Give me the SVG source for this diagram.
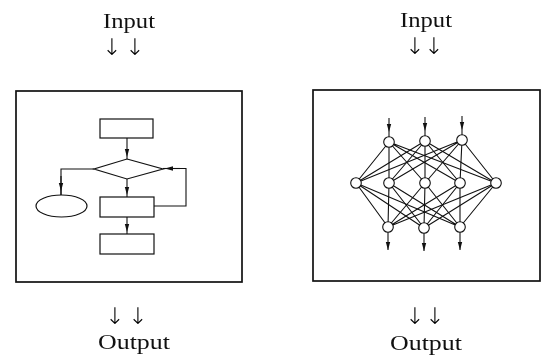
<svg xmlns="http://www.w3.org/2000/svg" width="544" height="362" viewBox="0 0 544 362">
<style>
.frame{fill:none;stroke:#111;stroke-width:1.7}
.ln{fill:none;stroke:#111;stroke-width:1.1}
.shp{fill:#fff;stroke:#111;stroke-width:1.2}
.nd{fill:#fff;stroke:#111;stroke-width:1.1}
.lbl{font-family:"Liberation Serif","Times New Roman",serif;font-size:22px;fill:#111}
.arr{font-family:"DejaVu Sans",sans-serif;font-size:23px;font-weight:200;fill:#000}
</style>
<defs>
<marker id="ah" viewBox="0 0 8 6" refX="4" refY="3" markerWidth="8" markerHeight="6" markerUnits="userSpaceOnUse" orient="auto">
<path d="M0,0.8 L8,3 L0,5.2 Z" fill="#111"/>
</marker>
<filter id="gray" x="0" y="0" width="1" height="1" filterUnits="objectBoundingBox">
<feColorMatrix type="saturate" values="0"/>
</filter>
</defs>
<rect width="544" height="362" fill="#fff"/>

<g id="labels" filter="url(#gray)">
<text class="lbl"><tspan x="103" y="28" textLength="52" lengthAdjust="spacingAndGlyphs">Input</tspan><tspan class="arr" x="112 135" y="55" text-anchor="middle">&#x2193;&#xFE0E;&#x2193;&#xFE0E;</tspan></text>
<text class="lbl"><tspan x="400" y="27" textLength="52" lengthAdjust="spacingAndGlyphs">Input</tspan><tspan class="arr" x="415 434" y="54" text-anchor="middle">&#x2193;&#xFE0E;&#x2193;&#xFE0E;</tspan></text>
<text class="lbl"><tspan class="arr" x="115 138" y="323.5" text-anchor="middle">&#x2193;&#xFE0E;&#x2193;&#xFE0E;</tspan><tspan x="98" y="349" textLength="72" lengthAdjust="spacingAndGlyphs">Output</tspan></text>
<text class="lbl"><tspan class="arr" x="415 435" y="323.5" text-anchor="middle">&#x2193;&#xFE0E;&#x2193;&#xFE0E;</tspan><tspan x="390" y="350" textLength="72" lengthAdjust="spacingAndGlyphs">Output</tspan></text>
</g>

<g id="flowchart">
<rect id="frame-left" class="frame" x="16" y="91" width="226" height="191"/>
<g id="connectors-left">
<path class="ln" d="M127 138 L127 153 L127 159" marker-mid="url(#ah)"/>
<path class="ln" d="M127 179 L127 191 L127 197" marker-mid="url(#ah)"/>
<path class="ln" d="M127 217 L127 228 L127 234" marker-mid="url(#ah)"/>
<path class="ln" d="M94 169 L61 169 L61 195"/>
<path class="ln" d="M61 176 L61 187 L61 195" marker-mid="url(#ah)"/>
<path class="ln" d="M154 206 L186 206 L186 168.5 L163 168.5"/>
<path class="ln" d="M180 168.5 L169 168.5 L163 168.5" marker-mid="url(#ah)"/>
</g>
<g id="rect1"><rect class="shp" x="100" y="119" width="53" height="19"/></g>
<g id="diamond"><polygon class="shp" points="127,159 163,169 127,179 94,169"/></g>
<g id="ellipse"><ellipse class="shp" cx="61.5" cy="206" rx="25.5" ry="11"/></g>
<g id="rect2"><rect class="shp" x="100" y="197" width="54" height="20"/></g>
<g id="rect3"><rect class="shp" x="100" y="234" width="54" height="20"/></g>
</g>

<g id="network">
<rect id="frame-right" class="frame" x="313" y="90" width="227" height="191"/>
<g id="connectors-right" class="ln">
<path d="M389 142L356 183M389 142L389 183M389 142L425 183M389 142L460 183M389 142L496 183"/>
<path d="M425 141L356 183M425 141L389 183M425 141L425 183M425 141L460 183M425 141L496 183"/>
<path d="M462 140L356 183M462 140L389 183M462 140L425 183M462 140L460 183M462 140L496 183"/>
<path d="M356 183L388 227M389 183L388 227M425 183L388 227M460 183L388 227M496 183L388 227"/>
<path d="M356 183L424 228M389 183L424 228M425 183L424 228M460 183L424 228M496 183L424 228"/>
<path d="M356 183L460 227M389 183L460 227M425 183L460 227M460 183L460 227M496 183L460 227"/>
<path d="M389 118 L389 128 L389 137" marker-mid="url(#ah)"/>
<path d="M425 117 L425 127 L425 136" marker-mid="url(#ah)"/>
<path d="M462 116 L462 126 L462 135" marker-mid="url(#ah)"/>
<path d="M388 232 L388 246 L388 250" marker-mid="url(#ah)"/>
<path d="M424 233 L424 247 L424 251" marker-mid="url(#ah)"/>
<path d="M460 232 L460 246 L460 250" marker-mid="url(#ah)"/>
</g>
<g id="n-t1"><circle class="nd" cx="389" cy="142" r="5.3"/></g>
<g id="n-t2"><circle class="nd" cx="425" cy="141" r="5.3"/></g>
<g id="n-t3"><circle class="nd" cx="462" cy="140" r="5.3"/></g>
<g id="n-m1"><circle class="nd" cx="356" cy="183" r="5.3"/></g>
<g id="n-m2"><circle class="nd" cx="389" cy="183" r="5.3"/></g>
<g id="n-m3"><circle class="nd" cx="425" cy="183" r="5.3"/></g>
<g id="n-m4"><circle class="nd" cx="460" cy="183" r="5.3"/></g>
<g id="n-m5"><circle class="nd" cx="496" cy="183" r="5.3"/></g>
<g id="n-b1"><circle class="nd" cx="388" cy="227" r="5.3"/></g>
<g id="n-b2"><circle class="nd" cx="424" cy="228" r="5.3"/></g>
<g id="n-b3"><circle class="nd" cx="460" cy="227" r="5.3"/></g>
</g>
</svg>
